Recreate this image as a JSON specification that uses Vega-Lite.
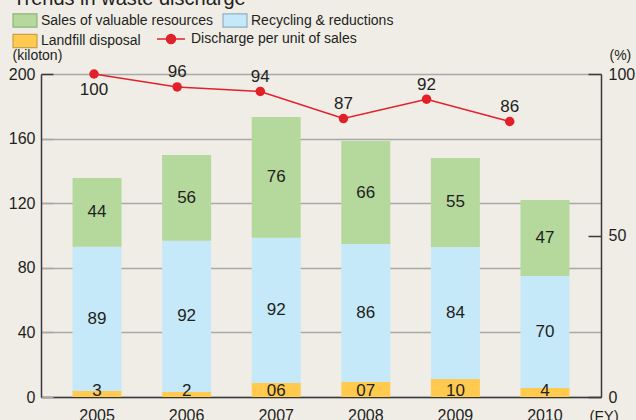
{
  "$schema": "https://vega.github.io/schema/vega-lite/v6.json",
  "width": 560,
  "height": 323,
  "autosize": {"type": "none"},
  "padding": {"left": 41, "top": 74, "right": 35, "bottom": 23},
  "background": "#f0ede7",
  "config": {
    "view": {"stroke": null},
    "font": "Liberation Sans",
    "axis": {
      "labelFont": "Liberation Sans",
      "labelFontSize": 16,
      "labelColor": "#231f20",
      "titleFont": "Liberation Sans",
      "titleFontSize": 14,
      "titleFontWeight": "normal",
      "titleColor": "#231f20",
      "domainColor": "#3a3a3a",
      "domainWidth": 1.5,
      "tickColor": "#3a3a3a",
      "tickWidth": 1.5
    },
    "legend": {
      "labelFont": "Liberation Sans",
      "labelFontSize": 14,
      "labelColor": "#231f20",
      "labelLimit": 0
    }
  },
  "title": {
    "text": "Trends in waste discharge",
    "anchor": "start",
    "frame": "group",
    "orient": "top",
    "font": "Liberation Sans",
    "fontSize": 20,
    "fontWeight": "normal",
    "color": "#231f20",
    "baseline": "alphabetic",
    "dx": -28,
    "dy": 15,
    "offset": 4
  },
  "datasets": {
    "bars": [
      {"year": "2005", "type": "Landfill disposal", "value": 3.7, "label": "3"},
      {"year": "2005", "type": "Recycling & reductions", "value": 89.4, "label": "89"},
      {"year": "2005", "type": "Sales of valuable resources", "value": 42.5, "label": "44"},
      {"year": "2006", "type": "Landfill disposal", "value": 3.1, "label": "2"},
      {"year": "2006", "type": "Recycling & reductions", "value": 93.7, "label": "92"},
      {"year": "2006", "type": "Sales of valuable resources", "value": 53.0, "label": "56"},
      {"year": "2007", "type": "Landfill disposal", "value": 8.7, "label": "06"},
      {"year": "2007", "type": "Recycling & reductions", "value": 89.9, "label": "92"},
      {"year": "2007", "type": "Sales of valuable resources", "value": 74.8, "label": "76"},
      {"year": "2008", "type": "Landfill disposal", "value": 9.3, "label": "07"},
      {"year": "2008", "type": "Recycling & reductions", "value": 85.4, "label": "86"},
      {"year": "2008", "type": "Sales of valuable resources", "value": 63.8, "label": "66"},
      {"year": "2009", "type": "Landfill disposal", "value": 11.1, "label": "10"},
      {"year": "2009", "type": "Recycling & reductions", "value": 81.8, "label": "84"},
      {"year": "2009", "type": "Sales of valuable resources", "value": 55.1, "label": "55"},
      {"year": "2010", "type": "Landfill disposal", "value": 5.6, "label": "4"},
      {"year": "2010", "type": "Recycling & reductions", "value": 69.3, "label": "70"},
      {"year": "2010", "type": "Sales of valuable resources", "value": 47.1, "label": "47"}
    ],
    "line": [
      {"year": 2005, "pct": 100, "label": "100"},
      {"year": 2006, "pct": 96, "label": "96"},
      {"year": 2007, "pct": 94.6, "label": "94"},
      {"year": 2008, "pct": 86.2, "label": "87"},
      {"year": 2009, "pct": 92.2, "label": "92"},
      {"year": 2010, "pct": 85.3, "label": "86"}
    ]
  },
  "layer": [
    {
      "data": {"name": "bars"},
      "transform": [
        {"stack": "value", "groupby": ["year"], "sort": [{"field": "type", "order": "ascending"}], "as": ["y0", "y1"]}
      ],
      "encoding": {
        "x": {
          "field": "year",
          "type": "ordinal",
          "scale": {"paddingInner": 0.453, "paddingOuter": 0.352},
          "axis": {
            "title": "(FY)",
            "titleX": 548,
            "titleY": 18,
            "titleAlign": "left",
            "titleBaseline": "middle",
            "titleFontSize": 15,
            "ticks": false,
            "labelAngle": 0,
            "labelPadding": 10
          }
        }
      },
      "layer": [
        {
          "mark": {"type": "bar"},
          "encoding": {
            "y": {
              "field": "y0",
              "type": "quantitative",
              "scale": {"domain": [0, 200], "nice": false},
              "axis": {
                "title": "(kiloton)",
                "titleAngle": 0,
                "titleX": -29,
                "titleY": -19,
                "titleAlign": "left",
                "titleBaseline": "middle",
                "values": [0, 40, 80, 120, 160, 200],
                "grid": true,
                "gridColor": "#a9a9a9",
                "gridWidth": 1.5,
                "tickSize": -12,
                "tickColor": {"condition": {"test": "datum.value === 200", "value": "#3a3a3a"}, "value": "#a9a9a9"},
                "labelPadding": 18
              }
            },
            "y2": {"field": "y1"},
            "color": {
              "field": "type",
              "type": "nominal",
              "scale": {
                "domain": ["Sales of valuable resources", "Landfill disposal", "Recycling & reductions"],
                "range": ["#b5d99c", "#ffca4d", "#c5e9f8"]
              },
              "legend": {
                "title": null,
                "orient": "none",
                "legendX": -23,
                "legendY": -60.5,
                "columns": 2,
                "padding": 0,
                "columnPadding": 7,
                "rowPadding": 2.5,
                "labelOffset": 9,
                "symbolType": "M-2,-1.1H2V1.1H-2Z",
                "symbolSize": 144,
                "symbolStrokeWidth": 1.2,
                "symbolOpacity": 1,
                "encode": {
                  "symbols": {
                    "update": {
                      "stroke": {"signal": "datum.value === 'Sales of valuable resources' ? '#8fb47a' : datum.value === 'Recycling & reductions' ? '#8fb0c2' : '#c9a14a'"},
                      "strokeWidth": {"value": 1.2}
                    }
                  }
                }
              }
            }
          }
        },
        {
          "transform": [
            {"filter": "datum.type !== 'Landfill disposal'"},
            {"calculate": "(datum.y0 + datum.y1) / 2", "as": "mid"}
          ],
          "mark": {"type": "text", "fontSize": 17, "color": "#231f20", "baseline": "middle", "font": "Liberation Sans"},
          "encoding": {
            "y": {"field": "mid", "type": "quantitative"},
            "text": {"field": "label"}
          }
        },
        {
          "transform": [{"filter": "datum.type === 'Landfill disposal'"}],
          "mark": {"type": "text", "fontSize": 17, "color": "#231f20", "baseline": "alphabetic", "dy": -1, "font": "Liberation Sans"},
          "encoding": {
            "y": {"datum": 0, "type": "quantitative"},
            "text": {"field": "label"}
          }
        }
      ]
    },
    {
      "data": {"name": "line"},
      "encoding": {
        "x": {
          "field": "year",
          "type": "quantitative",
          "scale": {"domain": [2004.3625, 2011.098], "nice": false, "zero": false},
          "axis": null
        },
        "y": {
          "field": "pct",
          "type": "quantitative",
          "scale": {"domain": [0, 100], "nice": false},
          "axis": {
            "orient": "right",
            "title": "(%)",
            "titleAngle": 0,
            "titleX": 8,
            "titleY": -19,
            "titleAlign": "left",
            "titleBaseline": "middle",
            "values": [0, 50, 100],
            "grid": false,
            "tickSize": -13,
            "labelPadding": 20
          }
        }
      },
      "layer": [
        {
          "mark": {"type": "line", "strokeWidth": 1.5},
          "encoding": {
            "stroke": {
              "datum": "Discharge per unit of sales",
              "scale": {"range": ["#e2202a"]},
              "legend": {
                "title": null,
                "orient": "none",
                "legendX": 115,
                "legendY": -50,
                "padding": 0,
                "labelOffset": 5,
                "symbolType": "M-1,0H1M-0.32,0A0.32,0.32,0,1,0,0.32,0A0.32,0.32,0,1,0,-0.32,0Z",
                "symbolSize": 784,
                "encode": {
                  "symbols": {
                    "update": {
                      "fill": {"value": "#e2202a"},
                      "stroke": {"value": "#e2202a"},
                      "strokeWidth": {"value": 1.5},
                      "opacity": {"value": 1}
                    }
                  }
                }
              }
            }
          }
        },
        {
          "mark": {"type": "point", "filled": true, "size": 90, "color": "#e2202a", "opacity": 1}
        },
        {
          "transform": [{"filter": "datum.year === 2005"}],
          "mark": {"type": "text", "fontSize": 17, "color": "#231f20", "baseline": "middle", "dy": 16, "font": "Liberation Sans"},
          "encoding": {"text": {"field": "label"}}
        },
        {
          "transform": [{"filter": "datum.year !== 2005"}],
          "mark": {"type": "text", "fontSize": 17, "color": "#231f20", "baseline": "middle", "dy": -14.5, "font": "Liberation Sans"},
          "encoding": {"text": {"field": "label"}}
        }
      ]
    }
  ],
  "resolve": {"scale": {"x": "independent", "y": "independent"}}
}
